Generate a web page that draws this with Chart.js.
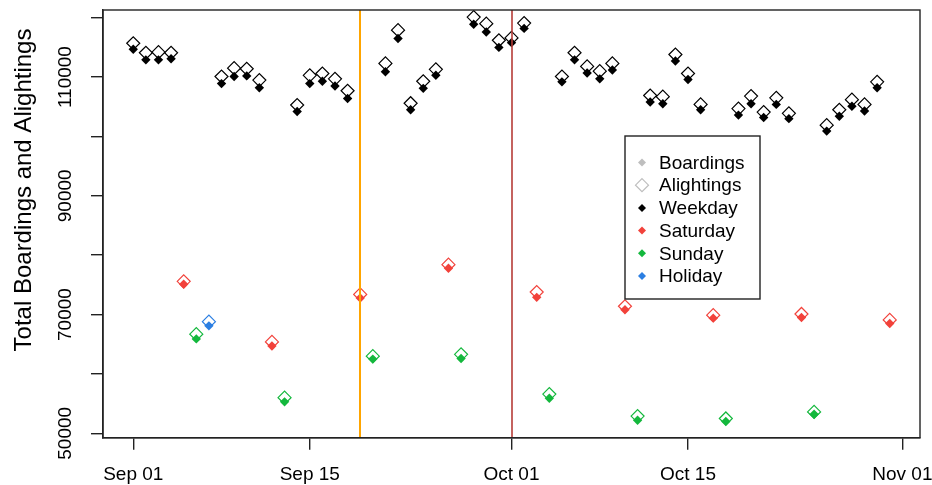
<!DOCTYPE html>
<html lang="en">
<head>
<meta charset="UTF-8">
<title>Total Boardings and Alightings</title>
<script src="https://cdn.jsdelivr.net/npm/chart.js@4.4.1/dist/chart.umd.min.js"></script>
<style>
  html, body { margin: 0; padding: 0; background: #fff; }
  #wrap { width: 932px; height: 485px; }
</style>
</head>
<body>
<div id="wrap"><canvas id="myChart" width="932" height="485"></canvas></div>
<script>
// one entry per day, Sep 1 - Oct 31 2015
const dates = [
  '2015-09-01','2015-09-02','2015-09-03','2015-09-04','2015-09-05','2015-09-06','2015-09-07',
  '2015-09-08','2015-09-09','2015-09-10','2015-09-11','2015-09-12','2015-09-13','2015-09-14',
  '2015-09-15','2015-09-16','2015-09-17','2015-09-18','2015-09-19','2015-09-20','2015-09-21',
  '2015-09-22','2015-09-23','2015-09-24','2015-09-25','2015-09-26','2015-09-27','2015-09-28',
  '2015-09-29','2015-09-30','2015-10-01','2015-10-02','2015-10-03','2015-10-04','2015-10-05',
  '2015-10-06','2015-10-07','2015-10-08','2015-10-09','2015-10-10','2015-10-11','2015-10-12',
  '2015-10-13','2015-10-14','2015-10-15','2015-10-16','2015-10-17','2015-10-18','2015-10-19',
  '2015-10-20','2015-10-21','2015-10-22','2015-10-23','2015-10-24','2015-10-25','2015-10-26',
  '2015-10-27','2015-10-28','2015-10-29','2015-10-30','2015-10-31'
];
// W = weekday, Sa = Saturday, Su = Sunday, H = holiday
const dayType = [
  'W','W','W','W','Sa','Su','H',
  'W','W','W','W','Sa','Su','W',
  'W','W','W','W','Sa','Su','W',
  'W','W','W','W','Sa','Su','W',
  'W','W','W','W','Sa','Su','W',
  'W','W','W','W','Sa','Su','W',
  'W','W','W','W','Sa','Su','W',
  'W','W','W','W','Sa','Su','W',
  'W','W','W','W','Sa'
];
const boardings = [
  114700,112900,112900,113100, 75100, 65900, 68100,
  108900,110100,110200,108200, 64700, 55300,104200,
  108900,109300,108500,106400, 72800, 62500,110900,
  116500,104500,108100,110300, 77800, 62600,118900,
  117600,115000,115800,118200, 72900, 55900,109200,
  112900,110700,109700,111200, 70800, 52200,105800,
  105500,112700,109600,104500, 69400, 52000,103600,
  105500,103200,105400,103000, 69500, 53200,100900,
  103400,105100,104300,108200, 68500
];
const alightings = [
  115700,114100,114200,114100, 75600, 66700, 68800,
  110100,111500,111400,109500, 65400, 56000,105300,
  110300,110600,109700,107700, 73400, 63000,112300,
  117900,105600,109300,111300, 78400, 63300,120100,
  119000,116200,116600,119100, 73800, 56600,110100,
  114100,111800,111000,112300, 71400, 52900,106900,
  106700,113800,110600,105400, 69900, 52500,104700,
  106800,104100,106500,103900, 70100, 53600,101900,
  104500,106200,105400,109200, 69100
];

const typeCodes = ['W','Sa','Su','H'];
const typeNames = ['Weekday','Saturday','Sunday','Holiday'];
const typeColors = ['#000000','#F2423B','#14B83D','#2C7FE2'];

const xTickDates = ['2015-09-01','2015-09-15','2015-10-01','2015-10-15','2015-11-01'];
const xTickLabels = ['Sep 01','Sep 15','Oct 01','Oct 15','Nov 01'];
const yTicks = [50000,60000,70000,80000,90000,100000,110000,120000];
const yTickLabels = [50000,70000,90000,110000];

const markerDates = ['2015-09-19','2015-10-01'];
const markerColors = ['#FFA500','#B63C38'];
const markerWidths = [2, 1.6];

const FONT = "'Liberation Sans', Arial, sans-serif";

function dayOf(s) {
  const p = s.split('-').map(Number);
  return (Date.UTC(p[0], p[1] - 1, p[2]) - Date.UTC(2015, 8, 1)) / 86400000;
}

const datasets = [];
typeCodes.forEach((code, t) => {
  const idx = dayType.map((d, i) => d === code ? i : -1).filter(i => i >= 0);
  datasets.push({
    label: typeNames[t] + ' alightings',
    data: idx.map(i => ({ x: dayOf(dates[i]), y: alightings[i] })),
    pointStyle: 'rectRot',
    pointRadius: 6.5,
    backgroundColor: 'rgba(0,0,0,0)',
    borderColor: typeColors[t],
    borderWidth: 1.2
  });
  datasets.push({
    label: typeNames[t] + ' boardings',
    data: idx.map(i => ({ x: dayOf(dates[i]), y: boardings[i] })),
    pointStyle: 'rectRot',
    pointRadius: 4.7,
    backgroundColor: typeColors[t],
    borderColor: typeColors[t],
    borderWidth: 0
  });
});

function diamond(ctx, x, y, r, filled, color) {
  ctx.beginPath();
  ctx.moveTo(x, y - r);
  ctx.lineTo(x + r, y);
  ctx.lineTo(x, y + r);
  ctx.lineTo(x - r, y);
  ctx.closePath();
  if (filled) { ctx.fillStyle = color; ctx.fill(); }
  else { ctx.strokeStyle = color; ctx.lineWidth = 1.2; ctx.stroke(); }
}

const rStyle = {
  id: 'rStyle',
  afterDatasetsDraw(chart) {
    const ctx = chart.ctx, a = chart.chartArea, xs = chart.scales.x;
    ctx.save();
    markerDates.forEach((d, i) => {
      const x = Math.round(xs.getPixelForValue(dayOf(d)));
      ctx.beginPath();
      ctx.strokeStyle = markerColors[i];
      ctx.lineWidth = markerWidths[i];
      ctx.moveTo(x, a.top);
      ctx.lineTo(x, a.bottom);
      ctx.stroke();
    });
    ctx.restore();
  },
  afterDraw(chart) {
    const ctx = chart.ctx, a = chart.chartArea, ys = chart.scales.y;
    ctx.save();
    // box round the plot
    ctx.strokeStyle = '#222';
    ctx.lineWidth = 1.4;
    ctx.strokeRect(a.left, a.top, a.right - a.left, a.bottom - a.top);

    // y tick labels, turned like R's
    ctx.fillStyle = '#000';
    ctx.font = '19px ' + FONT;
    ctx.textAlign = 'center';
    ctx.textBaseline = 'middle';
    yTickLabels.forEach(v => {
      ctx.save();
      ctx.translate(66, ys.getPixelForValue(v));
      ctx.rotate(-Math.PI / 2);
      ctx.fillText(String(v), 0, 0);
      ctx.restore();
    });

    // axis title
    ctx.save();
    ctx.font = '24px ' + FONT;
    ctx.translate(24, 190);
    ctx.rotate(-Math.PI / 2);
    ctx.fillText('Total Boardings and Alightings', 0, 0);
    ctx.restore();

    // legend
    const lx = 625, ly = 136, lw = 135, lh = 163;
    ctx.fillStyle = '#fff';
    ctx.fillRect(lx, ly, lw, lh);
    ctx.strokeStyle = '#222';
    ctx.lineWidth = 1.4;
    ctx.strokeRect(lx, ly, lw, lh);
    const entries = [['Boardings', '#BEBEBE', 'f'], ['Alightings', '#BEBEBE', 'h']]
      .concat(typeNames.map((n, i) => [n, typeColors[i], 'f']));
    ctx.font = '19px ' + FONT;
    ctx.textAlign = 'left';
    entries.forEach((e, i) => {
      const y = 162.5 + i * 22.7;
      if (e[2] === 'f') diamond(ctx, 642, y, 4, true, e[1]);
      else diamond(ctx, 642, y, 6.5, false, e[1]);
      ctx.fillStyle = '#000';
      ctx.fillText(e[0], 659, y + 1);
    });
    ctx.restore();
  }
};

const axisLine = { display: true, color: '#222', width: 1.4 };
const tickMarks = { display: true, drawOnChartArea: false, drawTicks: true, tickLength: 12, color: '#222', lineWidth: 1.4 };

new Chart(document.getElementById('myChart'), {
  type: 'scatter',
  data: { datasets },
  options: {
    responsive: false,
    animation: false,
    events: [],
    layout: { padding: { top: 10, right: 12, left: 0, bottom: 0 } },
    plugins: { legend: { display: false }, tooltip: { enabled: false } },
    scales: {
      x: {
        type: 'linear',
        min: -2.4,
        max: 62.4,
        afterBuildTicks: s => { s.ticks = xTickDates.map(d => ({ value: dayOf(d) })); },
        afterFit: s => { s.height = 47.3; s.paddingLeft = 0; s.paddingRight = 0; },
        ticks: {
          callback: (v, i) => xTickLabels[i],
          color: '#000',
          font: { family: FONT, size: 19 },
          padding: 14,
          maxRotation: 0,
          autoSkip: false
        },
        grid: tickMarks,
        border: axisLine
      },
      y: {
        type: 'linear',
        min: 49260,
        max: 121300,
        afterBuildTicks: s => { s.ticks = yTicks.map(v => ({ value: v })); },
        afterFit: s => { s.width = 103; s.paddingTop = 0; s.paddingBottom = 0; },
        ticks: { display: false },
        grid: tickMarks,
        border: axisLine
      }
    }
  },
  plugins: [rStyle]
});
</script>
</body>
</html>
